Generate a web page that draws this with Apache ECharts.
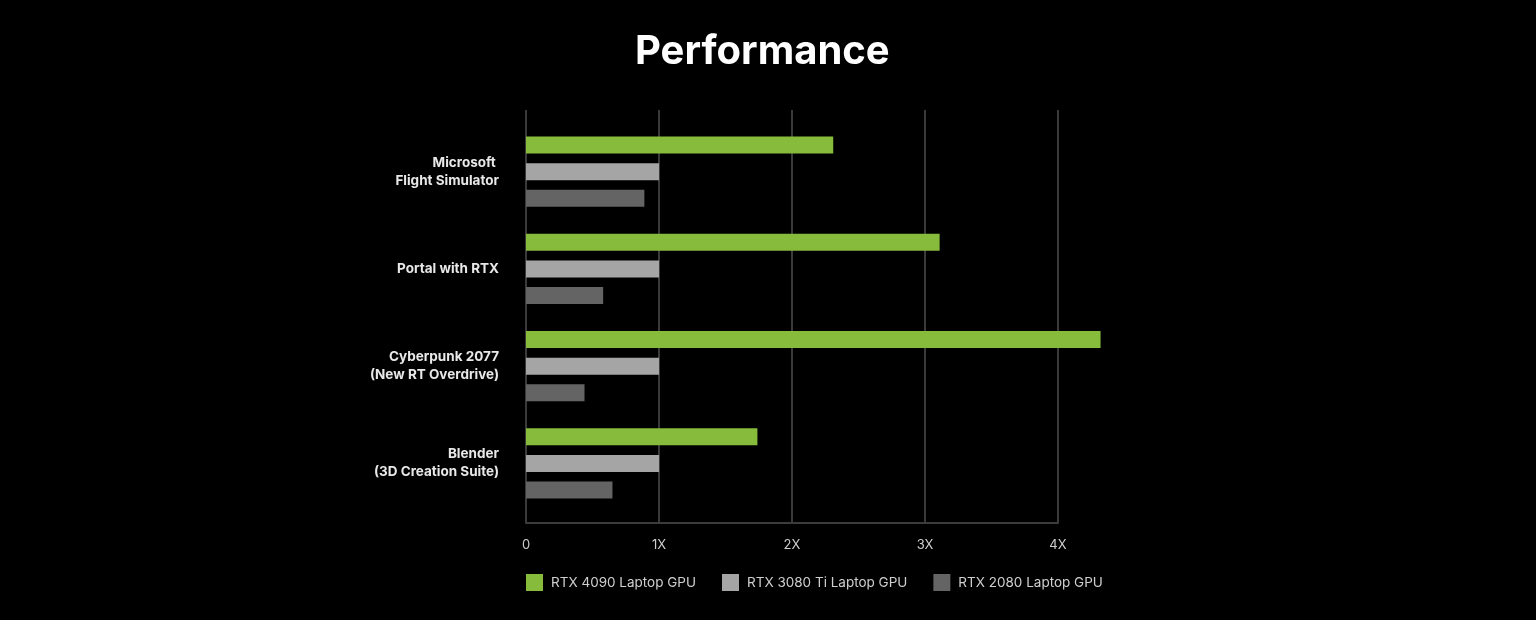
<!DOCTYPE html>
<html>
<head>
<meta charset="utf-8">
<script src="https://cdn.jsdelivr.net/npm/echarts@6/dist/echarts.min.js"></script>
<style>
  html, body { margin: 0; padding: 0; background: #000; }
  #chart { width: 1536px; height: 620px; }
</style>
</head>
<body>
<div id="chart"></div>
<script>
// 데이터
const categories = [
  'Microsoft \nFlight Simulator',
  'Portal with RTX',
  'Cyberpunk 2077\n(New RT Overdrive)',
  'Blender\n(3D Creation Suite)',
];
const seriesNames = ['RTX 4090 Laptop GPU', 'RTX 3080 Ti Laptop GPU', 'RTX 2080 Laptop GPU'];
const rtx4090 = [2.31, 3.11, 4.32, 1.74];
const rtx3080ti = [1, 1, 1, 1];
const rtx2080 = [0.89, 0.58, 0.44, 0.65];
const tickLabels = ['0', '1X', '2X', '3X', '4X'];

const colors = ['#86bb3b', '#a5a5a5', '#646464'];

const chart = echarts.init(document.getElementById('chart'));

const barBase = {
  type: 'bar',
  xAxisIndex: 1,
  yAxisIndex: 1,
  barWidth: 17,
  barGap: '56%',
  clip: false,
};

const option = {
  backgroundColor: '#000000',
  textStyle: { fontFamily: 'Inter, Lato, sans-serif' },
  title: {
    text: 'Performance',
    left: 630,
    top: 27,
    textStyle: {
      color: '#ffffff',
      fontSize: 40,
      fontWeight: 'bold',
      fontFamily: 'Inter, Lato, sans-serif',
    },
  },
  legend: {
    left: 521,
    top: 569,
    icon: 'rect',
    itemWidth: 17,
    itemHeight: 17,
    itemGap: 26,
    data: seriesNames,
    textStyle: { color: '#cfcfcf', fontSize: 13.5, padding: [0, 0, 0, 3] },
  },
  grid: [
    // 눈금선/축용
    { left: 526, right: 478, top: 110, bottom: 97 },
    // 막대용
    { left: 526, right: 478, top: 123, bottom: 108 },
  ],
  xAxis: [
    {
      gridIndex: 0,
      type: 'value',
      min: 0,
      max: 4,
      interval: 1,
      axisLine: { show: true, lineStyle: { color: '#3c3c3c', width: 2 } },
      axisTick: { show: false },
      splitLine: { show: true, lineStyle: { color: '#3a3a3a', width: 2 } },
      axisLabel: {
        color: '#cfcfcf',
        fontSize: 13,
        margin: 16,
        formatter: (v) => tickLabels[Math.round(v)],
      },
    },
    {
      gridIndex: 1,
      type: 'value',
      min: 0,
      max: 4,
      show: false,
    },
  ],
  yAxis: [
    {
      gridIndex: 0,
      type: 'category',
      data: categories,
      show: false,
    },
    {
      gridIndex: 1,
      type: 'category',
      data: categories,
      inverse: true,
      axisLine: { show: false },
      axisTick: { show: false },
      axisLabel: {
        color: '#e8e8e8',
        fontSize: 13.5,
        fontWeight: 'bold',
        lineHeight: 18,
        margin: 27,
        align: 'right',
      },
    },
  ],
  series: [
    { ...barBase, name: seriesNames[0], data: rtx4090, itemStyle: { color: colors[0] } },
    { ...barBase, name: seriesNames[1], data: rtx3080ti, itemStyle: { color: colors[1] } },
    { ...barBase, name: seriesNames[2], data: rtx2080, itemStyle: { color: colors[2] } },
  ],
};

chart.setOption(option);
</script>
</body>
</html>
